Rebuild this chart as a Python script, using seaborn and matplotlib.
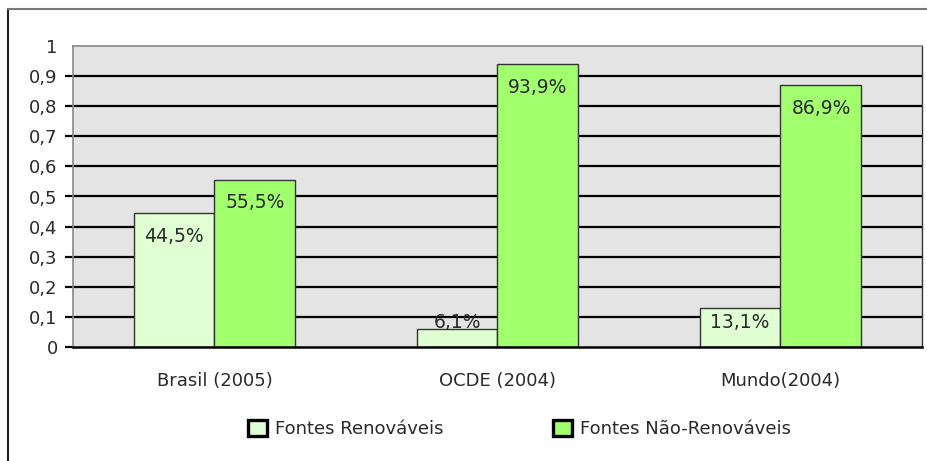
import matplotlib
matplotlib.use("Agg")
import matplotlib.pyplot as plt
import matplotlib.patches as mpatches
from matplotlib.lines import Line2D
import seaborn as sns
import pandas as pd

categories = ["Brasil (2005)", "OCDE (2004)", "Mundo(2004)"]
series_names = ["Fontes Renováveis", "Fontes Não-Renováveis"]
renovaveis = [0.445, 0.061, 0.131]
nao_renovaveis = [0.555, 0.939, 0.869]
label_ren = ["44,5%", "6,1%", "13,1%"]
label_nao = ["55,5%", "93,9%", "86,9%"]
yticks = [0, 0.1, 0.2, 0.3, 0.4, 0.5, 0.6, 0.7, 0.8, 0.9, 1.0]
ytick_labels = ["0", "0,1", "0,2", "0,3", "0,4", "0,5", "0,6", "0,7", "0,8", "0,9", "1"]

colors = ["#E0FFD2", "#A2FF6E"]

df = pd.DataFrame({
    "cat": categories * 2,
    "serie": [series_names[0]] * 3 + [series_names[1]] * 3,
    "valor": renovaveis + nao_renovaveis,
})

sns.set_theme(style="white")
plt.rcParams["font.family"] = ["DejaVu Sans"]

FS = 13
TXT = "#2a2a2a"

fig = plt.figure(figsize=(9.28, 4.61), dpi=100)
ax = fig.add_axes([73 / 928, 1 - 347 / 461, (922 - 73) / 928, (347 - 46) / 461])
ax.set_facecolor("#E4E4E4")

sns.barplot(data=df, x="cat", y="valor", hue="serie", hue_order=series_names,
            order=categories, palette=colors, width=0.572, edgecolor="#333333",
            linewidth=1, saturation=1, legend=False, ax=ax, zorder=3)

ax.set_ylim(0, 1)
ax.set_xlim(-0.5, 2.5)
ax.set_yticks(yticks)
ax.set_yticklabels(ytick_labels)
ax.set_xlabel("")
ax.set_ylabel("")
ax.grid(axis="y", color="black", linewidth=1.6, zorder=1)
ax.set_axisbelow(True)
gl = ax.get_ygridlines()
gl[-1].set_visible(False)
gl[0].set_visible(False)
ax.tick_params(axis="y", which="major", left=True, length=6, width=1.6,
               color="black", pad=5, labelsize=FS, labelcolor=TXT)
ax.yaxis.get_major_ticks()[-1].tick1line.set_visible(False)
ax.tick_params(axis="x", length=0, pad=18, labelsize=FS, labelcolor=TXT)

for s in ["top", "left"]:
    ax.spines[s].set_color("#888888")
    ax.spines[s].set_linewidth(1.2)
ax.spines["right"].set_color("#333333")
ax.spines["right"].set_linewidth(1.0)
ax.spines["bottom"].set_color("black")
ax.spines["bottom"].set_linewidth(1.8)
ax.spines["bottom"].set_zorder(5)

# data labels
for cont, labs in zip(ax.containers, [label_ren, label_nao]):
    for bar, lab in zip(cont, labs):
        xc = bar.get_x() + bar.get_width() / 2
        top_px = ax.transData.transform((0, bar.get_height()))[1]
        base_px = ax.transData.transform((0, 0))[1]
        yc_px = max(top_px - 23, base_px + 25)
        yc = ax.transData.inverted().transform((0, yc_px))[1]
        ax.text(xc, yc, lab, ha="center", va="center", fontsize=FS + 0.5,
                color=TXT, zorder=6)

# legend
handles = [mpatches.Patch(facecolor=c, edgecolor="black", linewidth=2.4, label=n)
           for c, n in zip(colors, series_names)]
fig.legend(handles=handles, loc="center", bbox_to_anchor=(519.5 / 928, 1 - 429 / 461),
           ncol=2, frameon=False, fontsize=FS, handlelength=1.05, handleheight=1.05,
           handletextpad=0.45, columnspacing=6.1, labelcolor=TXT)

# outer border (top and left)
fig.add_artist(Line2D([7.5 / 928, 7.5 / 928], [0, 1 - 9.5 / 461], color="#222222",
                      linewidth=1.5, transform=fig.transFigure))
fig.add_artist(Line2D([7.5 / 928, 1], [1 - 9.5 / 461, 1 - 9.5 / 461], color="#777777",
                      linewidth=1.5, transform=fig.transFigure))

fig.savefig("out.png", dpi=100)
